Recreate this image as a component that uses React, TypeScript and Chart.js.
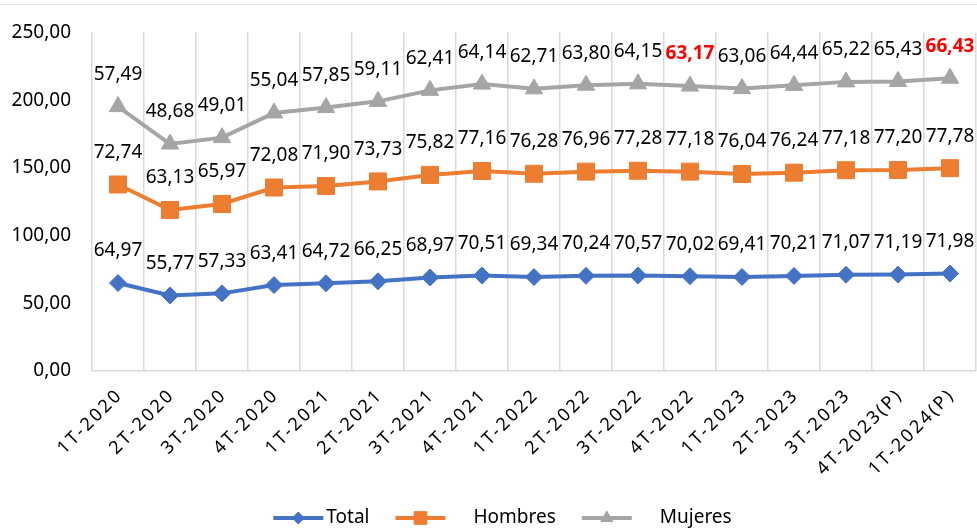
import React, { useEffect, useRef } from 'react';
import { Chart, registerables } from 'chart.js';
import { drawPoint } from 'chart.js/helpers';

Chart.register(...registerables);

const categories = [
  '1T-2020', '2T-2020', '3T-2020', '4T-2020',
  '1T-2021', '2T-2021', '3T-2021', '4T-2021',
  '1T-2022', '2T-2022', '3T-2022', '4T-2022',
  '1T-2023', '2T-2023', '3T-2023', '4T-2023(P)', '1T-2024(P)',
];
const totalValues = [64.97, 55.77, 57.33, 63.41, 64.72, 66.25, 68.97, 70.51, 69.34, 70.24, 70.57, 70.02, 69.41, 70.21, 71.07, 71.19, 71.98];
const hombresValues = [72.74, 63.13, 65.97, 72.08, 71.90, 73.73, 75.82, 77.16, 76.28, 76.96, 77.28, 77.18, 76.04, 76.24, 77.18, 77.20, 77.78];
const mujeresValues = [57.49, 48.68, 49.01, 55.04, 57.85, 59.11, 62.41, 64.14, 62.71, 63.80, 64.15, 63.17, 63.06, 64.44, 65.22, 65.43, 66.43];
const seriesNames = ['Total', 'Hombres', 'Mujeres'];
const highlightedMujeres = [11, 16];
const yMin = 0;
const yMax = 250;
const yStep = 50;

const FONT = '"Noto Sans", sans-serif';
const fmt = (v: number) => v.toFixed(2).replace('.', ',');

const colors = ['#4472C4', '#ED7D31', '#A5A5A5'];
const pointStyles = ['rectRot', 'rect', 'triangle'];

const labelsPlugin = {
  id: 'customLabels',
  beforeDraw(chart: any) {
    const ctx = chart.ctx;
    ctx.save();
    ctx.strokeStyle = '#e3e3e3';
    ctx.lineWidth = 1;
    ctx.beginPath();
    ctx.moveTo(0, 4.5);
    ctx.lineTo(chart.width, 4.5);
    ctx.stroke();
    ctx.restore();
  },
  afterDatasetsDraw(chart: any) {
    const ctx = chart.ctx;
    ctx.save();
    ctx.textAlign = 'center';
    ctx.textBaseline = 'middle';
    chart.data.datasets.forEach((ds: any, di: number) => {
      const meta = chart.getDatasetMeta(di);
      meta.data.forEach((pt: any, i: number) => {
        const v = ds.data[i] as number;
        const hl = di === 2 && highlightedMujeres.includes(i);
        ctx.font = `${hl ? 'bold ' : ''}19px ${FONT}`;
        ctx.fillStyle = hl ? '#FF0000' : '#000000';
        ctx.fillText(fmt(v), pt.x, pt.y - 32);
      });
    });
    ctx.restore();
  },
  afterDraw(chart: any) {
    const ctx = chart.ctx;
    const xs = chart.scales.x;
    // x tick labels (rotated, spaced)
    ctx.save();
    ctx.font = `18px ${FONT}`;
    (ctx as any).letterSpacing = '2.5px';
    ctx.fillStyle = '#000000';
    ctx.textAlign = 'right';
    ctx.textBaseline = 'middle';
    (chart.data.labels as string[]).forEach((lab, i) => {
      const x = xs.getPixelForTick(i);
      ctx.save();
      ctx.translate(x + 2, xs.top + 21);
      ctx.rotate(-Math.PI / 4);
      ctx.fillText(lab, 0, 0);
      ctx.restore();
    });
    ctx.restore();

    // legend
    ctx.save();
    ctx.font = `19px ${FONT}`;
    ctx.textBaseline = 'middle';
    ctx.textAlign = 'left';
    const lineLen = 50;
    const textGaps = [3, 28, 28];
    const itemGap = 26;
    const widths = seriesNames.map((n) => ctx.measureText(n).width);
    let total = 0;
    seriesNames.forEach((_, i) => { total += lineLen + textGaps[i] + widths[i]; });
    total += itemGap * (seriesNames.length - 1);
    let x = chart.width / 2 - total / 2 + 14;
    const y = 518;
    seriesNames.forEach((name, i) => {
      ctx.strokeStyle = colors[i];
      ctx.fillStyle = colors[i];
      ctx.lineWidth = 4;
      ctx.beginPath();
      ctx.moveTo(x, y);
      ctx.lineTo(x + lineLen, y);
      ctx.stroke();
      const radii = [6, 9, 7];
      ctx.lineWidth = 1;
      drawPoint(ctx, { pointStyle: pointStyles[i] as any, radius: radii[i], rotation: 0, borderWidth: 1 } as any, x + lineLen / 2, y);
      ctx.fillStyle = '#000000';
      ctx.fillText(name, x + lineLen + textGaps[i], y);
      x += lineLen + textGaps[i] + widths[i] + itemGap;
    });
    ctx.restore();
  },
};

export default function App() {
  const canvasRef = useRef<HTMLCanvasElement | null>(null);

  useEffect(() => {
    document.body.style.margin = '0';
    const canvas = canvasRef.current;
    if (!canvas) return;
    const series = [totalValues, hombresValues, mujeresValues];
    const radii = [8.5, 12, 10];
    const chart = new Chart(canvas, {
      type: 'line',
      data: {
        labels: categories,
        datasets: series.map((vals, i) => ({
          label: seriesNames[i],
          data: vals,
          borderColor: colors[i],
          backgroundColor: colors[i],
          borderWidth: 4,
          pointStyle: pointStyles[i] as any,
          pointRadius: radii[i],
          pointHoverRadius: radii[i],
          pointBorderWidth: 1,
          pointBackgroundColor: colors[i],
          pointBorderColor: colors[i],
          fill: false,
          tension: 0,
        })),
      },
      options: {
        responsive: false,
        animation: false,
        events: [],
        layout: { autoPadding: false, padding: { top: 31, right: 1, left: 0, bottom: 0 } },
        plugins: {
          legend: { display: false },
          tooltip: { enabled: false },
        },
        scales: {
          x: {
            offset: true,
            grid: { display: true, offset: true, color: '#d9d9d9', lineWidth: 1.5, drawTicks: false },
            border: { display: true, color: '#d9d9d9', width: 1.5 },
            ticks: { display: false },
            afterFit: (scale: any) => { scale.height = 157; },
          },
          y: {
            stacked: true,
            min: yMin,
            max: yMax,
            grid: { display: false, drawTicks: false },
            border: { display: false },
            ticks: {
              stepSize: yStep,
              padding: 21,
              color: '#000000',
              font: { family: FONT, size: 19 },
              callback: (v: any) => fmt(Number(v)),
            },
            afterFit: (scale: any) => { scale.width = 92; },
          },
        },
      },
      plugins: [labelsPlugin],
    });
    return () => chart.destroy();
  }, []);

  return (
    <div style={{ width: 977, height: 528, position: 'relative' }}>
      <canvas ref={canvasRef} width={977} height={528} style={{ display: 'block' }} />
    </div>
  );
}
